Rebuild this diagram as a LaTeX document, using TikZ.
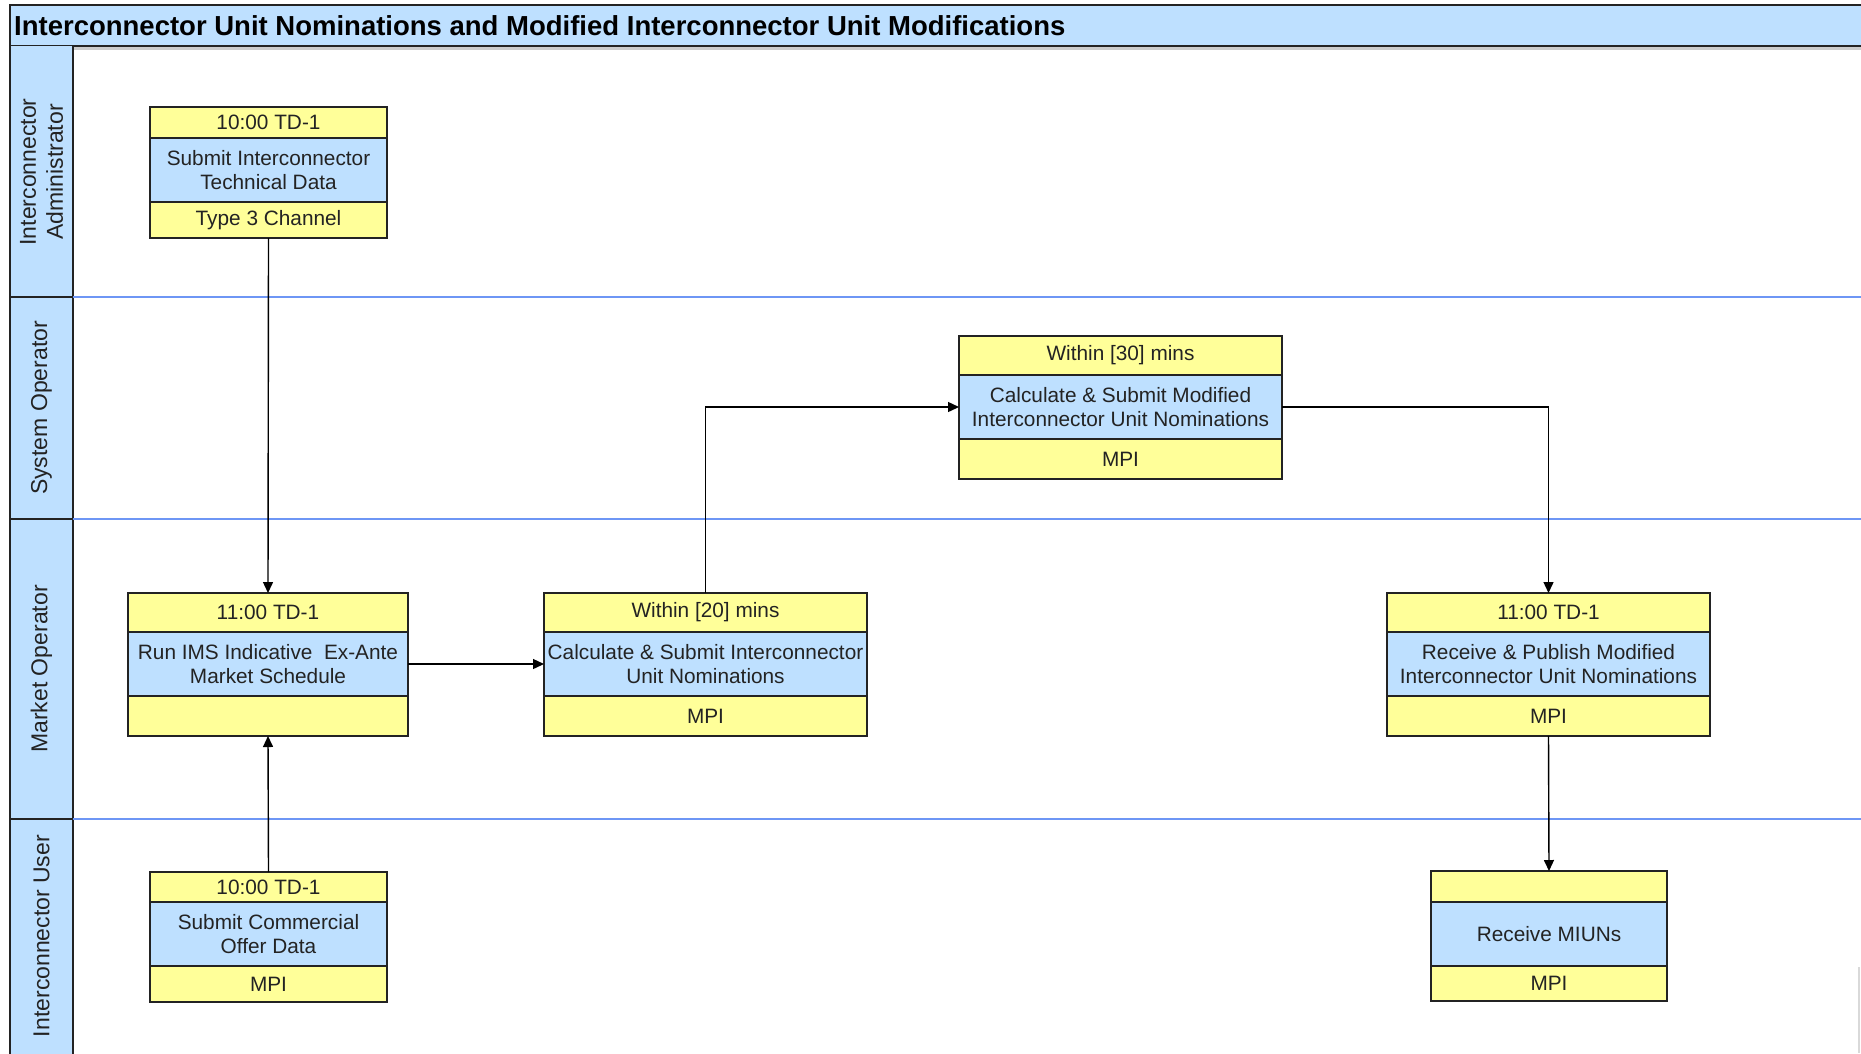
\documentclass[tikz,border=0pt]{standalone}
\usepackage{fontspec}
\setmainfont{Liberation Sans}
\usetikzlibrary{arrows.meta}
\definecolor{boxyellow}{RGB}{255,255,153}
\definecolor{boxblue}{RGB}{190,224,255}
\definecolor{lanecol}{RGB}{110,150,245}
\definecolor{edgecol}{RGB}{35,35,35}
\definecolor{txtcol}{RGB}{35,35,35}
\tikzset{
  sect/.style={draw=edgecol, line width=1.4pt, inner sep=0pt, outer sep=0pt, align=center,
    text=txtcol, font=\fontsize{20.8}{24}\selectfont, anchor=north west},
  ysect/.style={sect, fill=boxyellow},
  bsect/.style={sect, fill=boxblue},
  arr/.style={draw=black, line width=1.4pt, -{Triangle[length=11pt,width=10pt]}},
  lanelabel/.style={rotate=90, align=center, text=txtcol, font=\fontsize{23}{27}\selectfont},
  laneline/.style={draw=lanecol, line width=1.6pt},
}
% name, x, y, width, h1, h3, top text, middle text, bottom text
\newcommand{\procbox}[9]{%
  \node[ysect, minimum width=#4pt, minimum height=#5pt] (#1t) at (#2,#3) {#7};
  \node[bsect, minimum width=#4pt, minimum height=64pt] (#1m) at (#1t.south west) {#8};
  \node[ysect, minimum width=#4pt, minimum height=#6pt] (#1b) at (#1m.south west) {#9};
}
\begin{document}
\begin{tikzpicture}[x=1pt,y=-1pt]
\useasboundingbox (0,0) rectangle (1861,1053);
\fill[white] (0,0) rectangle (1861,1053);
% title bar
\fill[gray!40] (10,46) rectangle (1865,50);
\node[draw=edgecol, line width=1.6pt, fill=boxblue, minimum width=1870pt, minimum height=41pt,
  anchor=north west, inner sep=0pt, outer sep=0pt] (title) at (10,5) {};
\node[anchor=west, text=black, font=\bfseries\fontsize{27.5}{30}\selectfont, inner sep=0pt]
  (titletext) at (14,25.5) {Interconnector Unit Nominations and Modified Interconnector Unit Modifications};
% lane column
\fill[boxblue] (10,46) rectangle (73,1056);
\draw[edgecol, line width=1.6pt] (10,46) -- (10,1056) (73,46) -- (73,1056);
\draw[edgecol, line width=1.4pt] (10,297) -- (73,297) (10,519) -- (73,519) (10,819) -- (73,819);
% lane lines
\draw[laneline] (73,297) -- (1861,297);
\draw[laneline] (73,519) -- (1861,519);
\draw[laneline] (73,819) -- (1861,819);
\draw[gray!30, line width=1.2pt] (1859,967) -- (1859,1053);
% lane labels
\node[lanelabel] (l1) at (41.5,172) {Interconnector\\Administrator};
\node[lanelabel] (l2) at (41.5,408) {System Operator};
\node[lanelabel] (l3) at (41.5,669) {Market Operator};
\node[lanelabel] (l4) at (41.5,936) {Interconnector User};
% boxes
\procbox{bA}{150}{107}{237}{31}{36}{10:00 TD-1}{Submit Interconnector\\Technical Data}{Type 3 Channel}
\procbox{bB}{959}{336}{323}{39}{40}{Within [30] mins}{Calculate \& Submit Modified\\Interconnector Unit Nominations}{MPI}
\procbox{bC}{128}{593}{280}{39}{40}{11:00 TD-1}{Run IMS Indicative\ \ Ex-Ante\\Market Schedule}{}
\procbox{bD}{544}{593}{323}{39}{40}{Within [20] mins}{Calculate \& Submit Interconnector\\Unit Nominations}{MPI}
\procbox{bE}{1387}{593}{323}{39}{40}{11:00 TD-1}{Receive \& Publish Modified\\Interconnector Unit Nominations}{MPI}
\procbox{bF}{1431}{871}{236}{31}{35}{}{Receive MIUNs}{MPI}
\procbox{bG}{150}{872}{237}{30}{36}{10:00 TD-1}{Submit Commercial\\Offer Data}{MPI}
% connectors
\draw[arr] (bAb.south) -- (bCt.north);
\draw[arr] (bGt.north) -- (bCb.south);
\draw[arr] (bCm.east) -- (bDm.west);
\draw[arr] (bDt.north) |- (bBm.west);
\draw[arr] (bBm.east) -| (bEt.north);
\draw[arr] (bEb.south) -- (bFt.north);
\end{tikzpicture}
\end{document}
